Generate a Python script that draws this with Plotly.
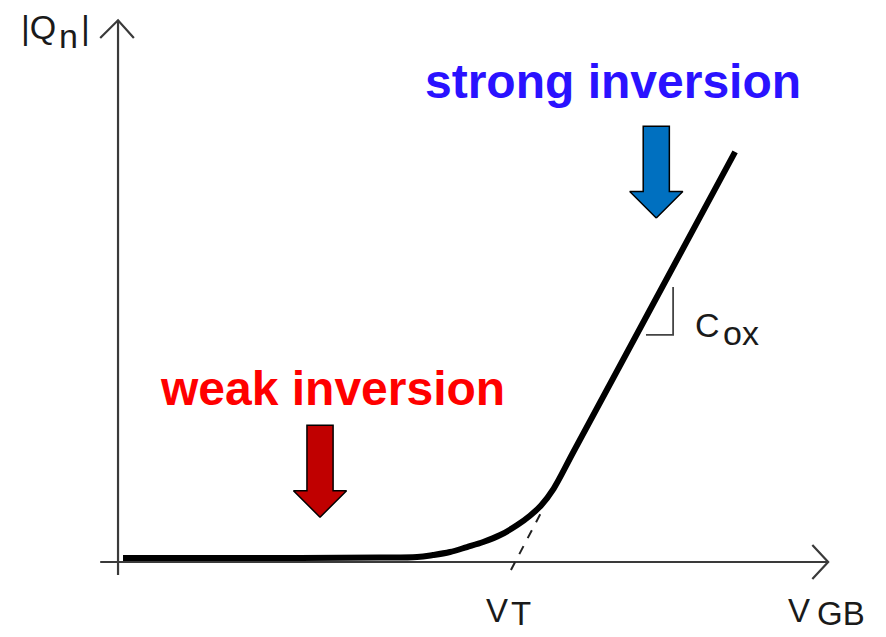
import plotly.graph_objects as go

# ---------------- data (V_GB in units of V_T, |Qn| in units of Cox*V_T) ----------------
vgb_curve = [0.0126, 0.46, 0.66, 0.755, 0.795, 0.838, 0.881, 0.922, 0.965, 1.008,
             1.040, 1.068, 1.10, 1.15, 1.35, 1.558]
qn_curve = [0.0054, 0.0054, 0.006, 0.0068, 0.0095, 0.0136, 0.0204, 0.0272, 0.0367, 0.0503,
            0.0630, 0.0770, 0.100, 0.150, 0.350, 0.558]

# extrapolated strong-inversion line down to V_T
vt_line_v = [1.066, 0.99]
vt_line_q = [0.065, -0.013]

# Cox slope marker
cox_v = [1.333, 1.4015, 1.4015]
cox_q = [0.309, 0.309, 0.374]

# axes
yaxis_v = [0.0, 0.0]
yaxis_q = [-0.0177, 0.737]
yhead_v = [-0.045, 0.0, 0.040]
yhead_q = [0.713, 0.737, 0.713]
xaxis_v = [-0.045, 1.793]
xaxis_q = [0.0, 0.0]
xhead_v = [1.753, 1.793, 1.753]
xhead_q = [0.023, 0.0, -0.023]

# block arrows: tip positions
weak_tip = (0.510, 0.061)
strong_tip = (1.359, 0.468)

# ranges mapping to the 886x637 canvas
X_RANGE = [-0.298, 1.939]
Y_RANGE = [-0.102, 0.7646]

AXIS_COLOR = "#3a3a3a"
TEXT_COLOR = "#1a1a1a"

fig = go.Figure()

def line(v, q, color, width, dash=None):
    fig.add_trace(go.Scatter(x=v, y=q, mode="lines",
                             line=dict(color=color, width=width, dash=dash),
                             hoverinfo="skip", showlegend=False))

# axes
line(yaxis_v, yaxis_q, AXIS_COLOR, 2.2)
line(yhead_v, yhead_q, AXIS_COLOR, 2.2)
line(xaxis_v, xaxis_q, AXIS_COLOR, 2.2)
line(xhead_v, xhead_q, AXIS_COLOR, 2.2)

# dashed extrapolation & Cox marker
line(vt_line_v, vt_line_q, "#222222", 2, "dash")
line(cox_v, cox_q, "#444444", 1.8)

# main curve
fig.add_trace(go.Scatter(x=vgb_curve, y=qn_curve, mode="lines",
                         line=dict(color="black", width=6, shape="spline", smoothing=1.0),
                         hoverinfo="skip", showlegend=False))

def block_arrow(tip, fill, length=0.125, head_len=0.036, shaft_hw=0.033, head_hw=0.067):
    x, y = tip
    xs = [x, x + head_hw, x + shaft_hw, x + shaft_hw, x - shaft_hw, x - shaft_hw, x - head_hw, x]
    ys = [y, y + head_len, y + head_len, y + length, y + length, y + head_len, y + head_len, y]
    fig.add_trace(go.Scatter(x=xs, y=ys, mode="lines", fill="toself", fillcolor=fill,
                             line=dict(color="black", width=1.5),
                             hoverinfo="skip", showlegend=False))

block_arrow(weak_tip, "#c00000")
block_arrow(strong_tip, "#0070c0")

FONT = "Liberation Sans, Arial, Helvetica, sans-serif"

def label(text, x, y, size, color=TEXT_COLOR, bold=False):
    fig.add_annotation(x=x, y=y, text=f"<b>{text}</b>" if bold else text, showarrow=False,
                       xanchor="center", yanchor="middle",
                       font=dict(family=FONT, size=size, color=color))

label("strong inversion", 1.25, 0.6544, 48, color="#2a12ff", bold=True)
label("weak inversion", 0.5404, 0.2354, 48, color="#ff0000", bold=True)

# axis labels (subscripts drawn full-size, offset down as in the reference)
label("|Q", -0.202, 0.728, 34)
label("n", -0.126, 0.716, 34)
label("|", -0.081, 0.728, 34)
label("C", 1.4874, 0.3224, 34)
label("ox", 1.5732, 0.312, 34)
label("V", 0.957, -0.0653, 33)
label("T", 1.0177, -0.0707, 33)
label("V", 1.7197, -0.0653, 33)
label("GB", 1.8258, -0.0707, 33)

fig.update_layout(
    width=886, height=637,
    margin=dict(l=0, r=0, t=0, b=0),
    paper_bgcolor="white", plot_bgcolor="white",
    xaxis=dict(range=X_RANGE, visible=False, fixedrange=True),
    yaxis=dict(range=Y_RANGE, visible=False, fixedrange=True),
    showlegend=False,
)

fig.write_html("out.html",
               config={"displayModeBar": False, "staticPlot": True},
               post_script="document.body.style.margin='0';document.body.style.overflow='hidden';")
